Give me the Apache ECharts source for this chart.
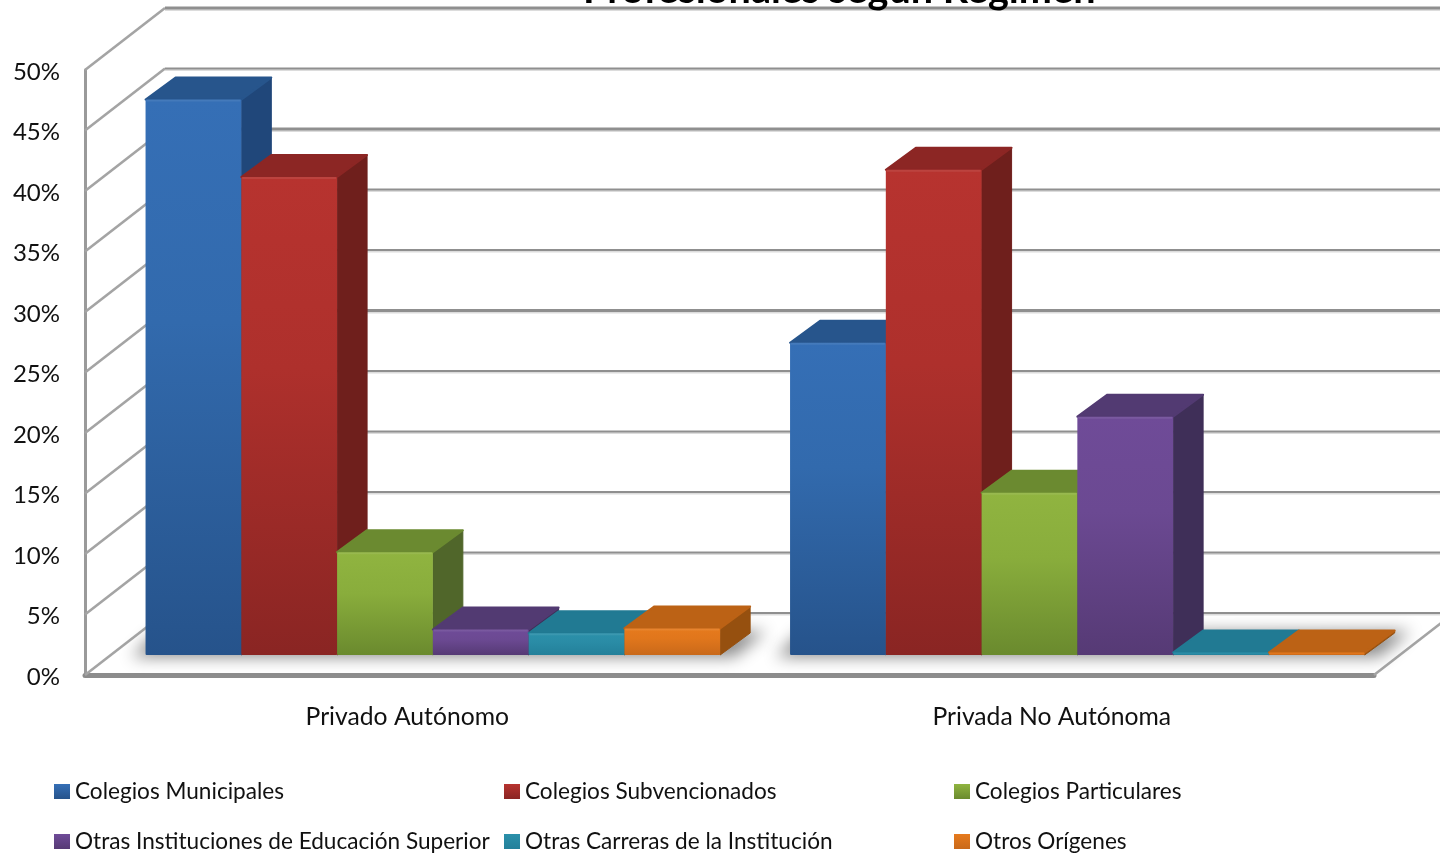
<!DOCTYPE html>
<html><head><meta charset="utf-8">
<style>html,body{margin:0;padding:0;background:#fff}#c{width:1440px;height:855px;overflow:hidden}</style>
<script src="https://cdn.jsdelivr.net/npm/echarts@6/dist/echarts.min.js"></script>
</head><body><div id="c"></div>
<script>
const categories = ['Privado Autónomo', 'Privada No Autónoma'];
const seriesNames = ['Colegios Municipales','Colegios Subvencionados','Colegios Particulares','Otras Instituciones de Educación Superior','Otras Carreras de la Institución','Otros Orígenes'];
const colegiosMunicipales = [45.9, 25.8];
const colegiosSubvencionados = [39.5, 40.1];
const colegiosParticulares = [8.5, 13.4];
const otrasInstituciones = [2.1, 19.7];
const otrasCarreras = [1.8, 0.2];
const otrosOrigenes = [2.2, 0.2];
const gridTicks = [0,5,10,15,20,25,30,35,40,45,50];

const allValues = [colegiosMunicipales, colegiosSubvencionados, colegiosParticulares, otrasInstituciones, otrasCarreras, otrosOrigenes];
const palette = [
 {top:'#356fb6',mid:'#326aad',bot:'#26538b',cap:'#27558c',side:'#20477a',leg:'#2f66a8'},
 {top:'#b7332f',mid:'#ae302c',bot:'#8a2523',cap:'#8c2624',side:'#6f1f1c',leg:'#aa2f2b'},
 {top:'#90b440',mid:'#89ad3c',bot:'#6a8a2e',cap:'#6b8a30',side:'#50662a',leg:'#85a83a'},
 {top:'#6f4b98',mid:'#6b4992',bot:'#563a75',cap:'#523a72',side:'#3f2f58',leg:'#694590'},
 {top:'#2b90aa',mid:'#2a8ca6',bot:'#23809a',cap:'#217a93',side:'#1a6177',leg:'#2a8aa4'},
 {top:'#e67a1d',mid:'#e0761c',bot:'#c9691a',cap:'#bc6215',side:'#96500f',leg:'#d8721b'}
];
const FONT = 'Lato';
const WALL_DX = 80, WALL_DY = -62, BAR_DX = 25.6, BAR_DY = -20, CAP_DX = 30, CAP_DY = -22, GAP_UNITS = 6.73;
const SHADOW_SHIFT = 3000;
const lineWidths = {0:2,5:2,10:2,15:2,20:2,25:3,30:2,35:2,40:3,45:2,50:3};

function vgrad3(p){return new echarts.graphic.LinearGradient(0,0,0,1,[{offset:0,color:p.top},{offset:0.4,color:p.mid},{offset:1,color:p.bot}]);}

function barSeries(i){
  const p = palette[i];
  return {
    type:'custom', name:seriesNames[i], z:10+i, silent:true,
    itemStyle:{color:p.leg},
    encode:{x:0,y:1},
    data: categories.map((_,k)=>[k, allValues[i][k]]),
    renderItem(params, api){
      const base = api.coord([api.value(0), 0]);
      const top = api.coord([api.value(0), api.value(1)]);
      const w = api.size([1,0])[0] / GAP_UNITS;
      const x0 = base[0] + BAR_DX + (i-3)*w, x1 = x0 + w;
      const yb = base[1] + BAR_DY, yt = top[1] + BAR_DY;
      const kids = [
        {type:'polygon', shape:{points:[[x1,yt],[x1+CAP_DX,yt+CAP_DY],[x1+CAP_DX,yb+CAP_DY],[x1,yb]]},
         style:{fill:p.side, stroke:p.side, lineWidth:1, lineJoin:'round'}},
        {type:'polygon', shape:{points:[[x0,yt],[x0+CAP_DX,yt+CAP_DY],[x1+CAP_DX,yt+CAP_DY],[x1,yt]]},
         style:{fill:p.cap, stroke:p.cap, lineWidth:2, lineJoin:'round'}},
        {type:'rect', shape:{x:x0,y:yt,width:w,height:yb-yt,r:1},
         style:{fill:vgrad3(p)}}
      ];
      if (yb-yt > 6) kids.push({type:'rect', shape:{x:x0+1,y:yt,width:w-2,height:2},
         style:{fill:'#ffffff',opacity:0.08}});
      return {type:'group', children:kids};
    }
  };
}

const wallSeries = {
  type:'custom', name:'walls', z:1, silent:true, encode:{x:0,y:1},
  data: gridTicks.map(t=>[0,t]),
  renderItem(params, api){
    const t = api.value(1);
    const a = api.coord([0,t]);
    const left = api.coord([0,0])[0] - api.size([1,0])[0]/2;
    const backX = left + WALL_DX, backY = a[1] + WALL_DY;
    const lw = lineWidths[t];
    return {type:'group', children:[
      {type:'line', shape:{x1:left,y1:a[1],x2:backX,y2:backY}, style:{stroke:'#a4a4a4',lineWidth:2.6}},
      {type:'line', shape:{x1:backX,y1:backY+1,x2:api.getWidth(),y2:backY+1}, style:{stroke:'#dcdcdc',lineWidth:lw+1}},
      {type:'line', shape:{x1:backX,y1:backY,x2:api.getWidth(),y2:backY}, style:{stroke:'#8f8f8f',lineWidth:lw}}
    ]};
  }
};

const floorSeries = {
  type:'custom', name:'floor', z:2, silent:true, encode:{x:0,y:1},
  data:[[1,0]],
  renderItem(params, api){
    const o = api.coord([1,0]);
    const band = api.size([1,0])[0];
    const right = o[0] + band/2;
    return {type:'line', shape:{x1:right,y1:o[1],x2:right+WALL_DX,y2:o[1]+WALL_DY}, style:{stroke:'#a4a4a4',lineWidth:2.6}};
  }
};

const shadowSeries = {
  type:'custom', name:'shadow', z:3, silent:true, encode:{x:0,y:1},
  data: categories.map((_,k)=>[k,0]),
  renderItem(params, api){
    const o = api.coord([api.value(0),0]);
    const w = api.size([1,0])[0] / GAP_UNITS;
    const x0 = o[0]+BAR_DX-3*w, x1 = o[0]+BAR_DX+3*w, y = o[1]+BAR_DY;
    const s = SHADOW_SHIFT;
    return {type:'polygon', shape:{points:[[x0-14-s,y+2],[x0+10-s,y-22],[x1+46-s,y-24],[x1+14-s,y+2]]},
      style:{fill:'#8c8c8c', shadowBlur:16, shadowColor:'#8c8c8c', shadowOffsetX:s}};
  }
};

const legendPos = [[54,780],[504,780],[954,780],[54,830],[504,830],[954,830]];
const option = {
  animation:false,
  backgroundColor:'#fff',
  textStyle:{fontFamily:FONT},
  title:{text:'Profesionales según Régimen', left:578, top:-35,
    textStyle:{fontFamily:FONT,fontWeight:'bold',fontSize:39.6,color:'#000'}},
  grid:{left:85,right:66,top:70,bottom:180,containLabel:false},
  xAxis:{type:'category',data:categories,
    axisLine:{show:true,lineStyle:{color:'#8c8c8c',width:5}},axisTick:{show:false},
    axisLabel:{color:'#111',fontSize:24.7,fontFamily:FONT,margin:30}},
  yAxis:{type:'value',min:0,max:50,interval:5,
    axisLine:{show:true,lineStyle:{color:'#9a9a9a',width:3}},axisTick:{show:false},splitLine:{show:false},
    axisLabel:{color:'#111',fontSize:24,fontFamily:FONT,margin:25,verticalAlign:'top',padding:[-10,0,0,0],formatter:'{value}%'}},
  legend: seriesNames.map((n,i)=>({
    left:legendPos[i][0], top:legendPos[i][1], padding:0, itemWidth:16, itemHeight:15, selectedMode:false,
    textStyle:{color:'#111',fontSize:22.6,fontFamily:FONT},
    data:[{name:n,icon:'rect',itemStyle:{color:new echarts.graphic.LinearGradient(0,0,0,1,[{offset:0,color:palette[i].top},{offset:1,color:palette[i].bot}])}}]
  })),
  series:[wallSeries,floorSeries,shadowSeries,...seriesNames.map((_,i)=>barSeries(i))]
};
const chart = echarts.init(document.getElementById('c'),null,{renderer:'canvas'});
chart.setOption(option);
</script></body></html>
